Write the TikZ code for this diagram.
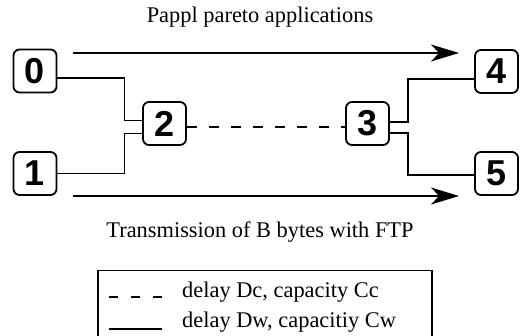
\documentclass[tikz,border=0pt]{standalone}
\usepackage{fontspec}
\setmainfont{Liberation Serif}
\newfontfamily\digitfont{Liberation Sans}
\usetikzlibrary{arrows.meta}
\begin{document}
\begin{tikzpicture}[x=1pt,y=-1pt,
  numbox/.style={draw,line width=1.8pt,rounded corners=6pt,minimum width=43pt,minimum height=43pt,inner sep=0pt,font=\digitfont\bfseries\fontsize{36}{36}\selectfont},
  wire/.style={line width=1.2pt},
  dashwire/.style={line width=1.2pt,dash pattern=on 10pt off 12pt},
  flow/.style={line width=1.2pt,-{Stealth[length=28pt,width=17pt,inset=8pt]}},
  lbl/.style={font=\fontsize{22.4}{22.4}\selectfont}]
\useasboundingbox (0,0) rectangle (520,336);
\node[numbox] (n0) at (35,71) {0};
\node[numbox] (n1) at (35,173.5) {1};
\node[numbox] (n2) at (164.5,123.5) {2};
\node[numbox] (n3) at (367.5,123.5) {3};
\node[numbox] (n4) at (496.5,71.5) {4};
\node[numbox] (n5) at (496.5,173.5) {5};
% wires
\draw[wire] ([yshift=-7pt]n0.east) -- ++(67,0) |- ([yshift=3pt]n2.west);
\draw[wire] ([yshift=0pt]n1.east) -- ++(67,0) |- ([yshift=-10pt]n2.west);
\draw[dashwire] ([yshift=-3.5pt]n2.east) -- ([yshift=-3.5pt]n3.west);
\draw[wire] ([yshift=1.5pt]n3.east) -- ++(18,0) |- ([yshift=-7.5pt]n4.west);
\draw[wire] ([yshift=-9.5pt]n3.east) -- ++(18,0) |- ([yshift=-1.5pt]n5.west);
% flows
\coordinate (a0) at (73,53);
\coordinate (a1) at (459,53);
\coordinate (b0) at (73,196);
\coordinate (b1) at (459,196);
\draw[flow] (a0) -- (a1);
\draw[flow] (b0) -- (b1);
\node[lbl] (t1) at (260,17) {Pappl pareto applications};
\node[lbl] (t2) at (260,232) {Transmission of B bytes with FTP};
% legend
\draw[line width=1.2pt] (98,345) -- (98,270.5) -- (432,270.5) -- (432,345);
\coordinate (l0) at (109,297);
\coordinate (l1) at (165,297);
\coordinate (m0) at (109,329);
\coordinate (m1) at (162,329);
\draw[line width=1.3pt,dash pattern=on 9pt off 13pt] (l0) -- (l1);
\draw[line width=1.5pt] (m0) -- (m1);
\node[lbl,anchor=west,inner sep=0pt] (d1) at (182,292) {delay Dc, capacity Cc};
\node[lbl,anchor=west,inner sep=0pt] (d2) at (182,322) {delay Dw, capacitiy Cw};
\end{tikzpicture}
\end{document}
